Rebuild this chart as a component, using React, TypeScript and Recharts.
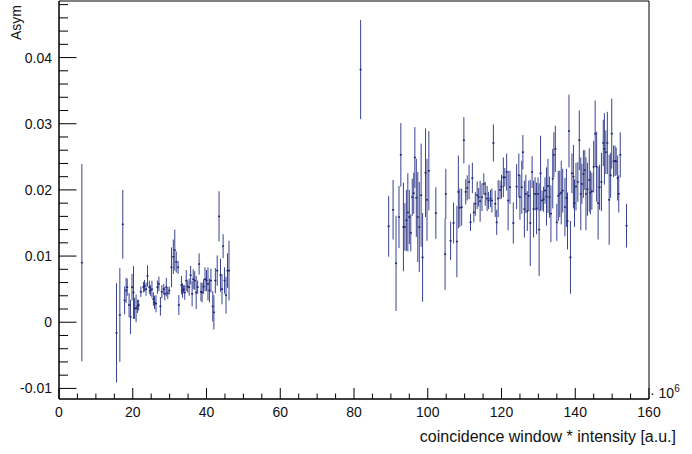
import { ScatterChart, Scatter, XAxis, YAxis, ErrorBar, ReferenceArea } from 'recharts'

// low-intensity region (incl. the lone points at ~6 and ~82)
const lowX = [
    6.2, 15.6, 16.5, 17.3, 17.8, 18.2, 18.5, 19.0, 19.4, 19.8, 20.2, 20.5, 20.9, 21.3, 21.6,
    22.2, 22.9, 23.2, 23.6, 24.0, 24.5, 24.8, 25.2, 25.6, 25.9, 26.3, 26.7, 27.1, 27.5, 27.9,
    28.4, 28.7, 29.1, 29.5, 29.9, 30.5, 31.0, 31.4, 31.8, 32.3, 32.5, 33.2, 33.5, 33.8, 34.1,
    34.5, 34.9, 35.3, 35.7, 36.1, 36.4, 36.8, 37.2, 37.6, 38.0, 38.5, 38.8, 39.2, 39.6, 40.0,
    40.4, 40.8, 41.2, 41.7, 42.0, 42.4, 42.9, 43.4, 43.8, 44.2, 44.5, 44.9, 45.3, 45.7, 46.1,
    81.8,
]
const lowAsym = [
    0.0090, -0.0016, 0.0011, 0.0148, 0.0033, 0.0048, 0.0053, 0.0026, 0.0008, 0.0053, 0.0045, 0.0021, 0.0021, 0.0024, 0.0026,
    0.0046, 0.0053, 0.0055, 0.0050, 0.0070, 0.0053, 0.0048, 0.0050, 0.0035, 0.0030, 0.0028, 0.0053, 0.0058, 0.0024, 0.0046,
    0.0050, 0.0043, 0.0053, 0.0044, 0.0048, 0.0083, 0.0099, 0.0109, 0.0091, 0.0083, 0.0026, 0.0056, 0.0048, 0.0050, 0.0045,
    0.0063, 0.0054, 0.0053, 0.0071, 0.0043, 0.0065, 0.0063, 0.0045, 0.0053, 0.0088, 0.0046, 0.0045, 0.0054, 0.0065, 0.0063,
    0.0058, 0.0048, 0.0063, 0.0024, 0.0015, 0.0063, 0.0078, 0.0160, 0.0071, 0.0050, 0.0115, 0.0063, 0.0041, 0.0078, 0.0078,
    0.0382,
]
const lowErr = [
    0.0149, 0.0075, 0.0071, 0.0052, 0.0021, 0.0019, 0.0013, 0.0018, 0.0026, 0.0020, 0.0040, 0.0016, 0.0021, 0.0010, 0.0008,
    0.0008, 0.0008, 0.0009, 0.0010, 0.0016, 0.0010, 0.0008, 0.0013, 0.0010, 0.0010, 0.0013, 0.0010, 0.0011, 0.0014, 0.0010,
    0.0008, 0.0010, 0.0014, 0.0009, 0.0006, 0.0030, 0.0026, 0.0031, 0.0016, 0.0010, 0.0015, 0.0014, 0.0011, 0.0006, 0.0011,
    0.0016, 0.0009, 0.0013, 0.0014, 0.0019, 0.0015, 0.0014, 0.0025, 0.0010, 0.0016, 0.0014, 0.0015, 0.0011, 0.0018, 0.0016,
    0.0025, 0.0018, 0.0018, 0.0023, 0.0026, 0.0019, 0.0023, 0.0038, 0.0025, 0.0023, 0.0018, 0.0020, 0.0028, 0.0026, 0.0045,
    0.0075,
]

// high-intensity region
const highX = [
    89.4, 90.6, 91.4, 92.2, 92.7, 93.4, 93.8, 94.2, 94.6, 95.0, 95.4, 95.8, 96.2, 96.5, 96.9,
    97.3, 97.7, 98.2, 98.6, 99.4, 99.8, 100.3, 102.2, 104.7, 104.9, 106.2, 107.0, 107.9, 108.3, 108.7,
    109.2, 109.8, 110.3, 110.7, 111.2, 111.6, 112.1, 112.5, 112.9, 113.4, 113.8, 114.2, 114.7, 115.2, 115.6,
    116.1, 116.5, 117.0, 117.4, 117.8, 118.3, 118.7, 119.1, 119.6, 120.0, 120.5, 120.9, 121.4, 121.8, 122.3,
    123.2, 124.1, 124.7, 125.0, 125.5, 125.8, 126.2, 126.6, 127.0, 127.4, 127.8, 128.3, 128.7, 129.1, 129.5,
    129.9, 130.2, 130.6, 131.0, 131.4, 131.8, 132.2, 132.6, 133.0, 133.4, 133.9, 134.2, 134.6, 135.0, 135.4,
    135.8, 136.2, 136.6, 137.2, 137.6, 137.9, 138.3, 138.7, 139.1, 139.5, 139.8, 140.2, 140.7, 141.1, 141.5,
    141.8, 142.2, 142.6, 142.9, 143.3, 143.8, 144.1, 144.5, 145.0, 145.4, 145.8, 146.2, 146.6, 147.1, 147.6,
    147.9, 148.3, 148.7, 149.2, 149.6, 149.9, 150.4, 150.8, 151.1, 151.5, 151.8, 152.2, 153.9,
]
const highAsym = [
    0.0145, 0.0170, 0.0089, 0.0159, 0.0253, 0.0144, 0.0144, 0.0154, 0.0166, 0.0159, 0.0135, 0.0189, 0.0195, 0.0249, 0.0188,
    0.0159, 0.0144, 0.0192, 0.0098, 0.0226, 0.0185, 0.0229, 0.0165, 0.0103, 0.0194, 0.0123, 0.0150, 0.0122, 0.0197, 0.0173,
    0.0174, 0.0275, 0.0197, 0.0203, 0.0212, 0.0151, 0.0218, 0.0166, 0.0179, 0.0192, 0.0189, 0.0183, 0.0189, 0.0209, 0.0194,
    0.0187, 0.0184, 0.0187, 0.0184, 0.0271, 0.0179, 0.0151, 0.0187, 0.0200, 0.0205, 0.0219, 0.0219, 0.0227, 0.0184, 0.0204,
    0.0150, 0.0205, 0.0222, 0.0189, 0.0204, 0.0257, 0.0171, 0.0194, 0.0168, 0.0191, 0.0150, 0.0227, 0.0171, 0.0194, 0.0172,
    0.0194, 0.0140, 0.0225, 0.0184, 0.0186, 0.0199, 0.0190, 0.0206, 0.0189, 0.0164, 0.0217, 0.0253, 0.0262, 0.0151, 0.0191,
    0.0194, 0.0196, 0.0199, 0.0174, 0.0188, 0.0153, 0.0289, 0.0098, 0.0225, 0.0220, 0.0180, 0.0205, 0.0212, 0.0275, 0.0194,
    0.0209, 0.0224, 0.0230, 0.0194, 0.0201, 0.0215, 0.0196, 0.0198, 0.0235, 0.0285, 0.0235, 0.0180, 0.0204, 0.0212, 0.0271,
    0.0262, 0.0257, 0.0271, 0.0185, 0.0222, 0.0285, 0.0243, 0.0244, 0.0243, 0.0218, 0.0194, 0.0253, 0.0146,
]
const highErr = [
    0.0046, 0.0045, 0.0072, 0.0047, 0.0048, 0.0067, 0.0036, 0.0046, 0.0059, 0.0041, 0.0028, 0.0028, 0.0031, 0.0046, 0.0059,
    0.0068, 0.0068, 0.0078, 0.0067, 0.0067, 0.0062, 0.0060, 0.0039, 0.0054, 0.0038, 0.0029, 0.0031, 0.0054, 0.0055, 0.0029,
    0.0028, 0.0035, 0.0019, 0.0019, 0.0026, 0.0013, 0.0023, 0.0015, 0.0018, 0.0021, 0.0014, 0.0031, 0.0021, 0.0016, 0.0018,
    0.0019, 0.0013, 0.0013, 0.0018, 0.0028, 0.0020, 0.0019, 0.0028, 0.0014, 0.0018, 0.0030, 0.0014, 0.0028, 0.0045, 0.0025,
    0.0031, 0.0034, 0.0033, 0.0034, 0.0040, 0.0026, 0.0043, 0.0029, 0.0030, 0.0023, 0.0065, 0.0024, 0.0043, 0.0025, 0.0039,
    0.0025, 0.0070, 0.0057, 0.0015, 0.0019, 0.0020, 0.0044, 0.0041, 0.0031, 0.0043, 0.0045, 0.0034, 0.0035, 0.0028, 0.0038,
    0.0035, 0.0048, 0.0033, 0.0044, 0.0044, 0.0043, 0.0055, 0.0055, 0.0030, 0.0048, 0.0036, 0.0036, 0.0030, 0.0045, 0.0055,
    0.0030, 0.0036, 0.0030, 0.0055, 0.0040, 0.0048, 0.0033, 0.0028, 0.0039, 0.0050, 0.0053, 0.0055, 0.0034, 0.0044, 0.0035,
    0.0054, 0.0033, 0.0047, 0.0068, 0.0034, 0.0053, 0.0024, 0.0023, 0.0021, 0.0034, 0.0028, 0.0034, 0.0033,
]

const xTicks = [0, 5, 10, 15, 20, 25, 30, 35, 40, 45, 50, 55, 60, 65, 70, 75, 80, 85, 90, 95, 100, 105, 110, 115, 120, 125, 130, 135, 140, 145, 150, 155, 160]
const xMajor = [0, 20, 40, 60, 80, 100, 120, 140, 160]
const yTicks = [
    -0.01, -0.008, -0.006, -0.004, -0.002, 0, 0.002, 0.004, 0.006, 0.008, 0.01, 0.012, 0.014, 0.016, 0.018,
    0.02, 0.022, 0.024, 0.026, 0.028, 0.03, 0.032, 0.034, 0.036, 0.038, 0.04, 0.042, 0.044, 0.046, 0.048,
]
const yMajor = [-0.01, 0, 0.01, 0.02, 0.03, 0.04]
const yMin = -0.0116
const yMax = 0.04855

const points = [
    ...lowX.map((x, i) => ({ x, y: lowAsym[i], err: lowErr[i] })),
    ...highX.map((x, i) => ({ x, y: highAsym[i], err: highErr[i] })),
]

const font = '"Liberation Sans", Arial, sans-serif'
const barColor = '#39438f'

function XTick({ x, y, payload }: any) {
    const major = xMajor.includes(payload.value)
    return (
        <g>
            <line x1={x} x2={x} y1={y} y2={y - (major ? 11 : 5.5)} stroke="#000" />
            {major && (
                <text x={x} y={y + 18} textAnchor="middle" fontSize={14} fontFamily={font} fill="#111">
                    {payload.value}
                </text>
            )}
        </g>
    )
}

function YTick({ x, y, payload }: any) {
    const v = payload.value
    const major = yMajor.some((m) => Math.abs(m - v) < 1e-9)
    return (
        <g>
            <line x1={x} x2={x + (major ? 17.5 : 9)} y1={y} y2={y} stroke="#000" />
            {major && (
                <text x={x - 7} y={y + 5} textAnchor="end" fontSize={14} fontFamily={font} fill="#111">
                    {String(Math.round(v * 100) / 100)}
                </text>
            )}
        </g>
    )
}

function Dot({ cx, cy }: any) {
    return <rect x={cx - 1} y={cy - 0.75} width={2} height={1.5} fill="#1c2670" />
}

export default function App() {
    return (
        <div style={{ position: 'absolute', left: 0, top: 0, width: 692, height: 454, background: '#fff' }}>
            <ScatterChart width={692} height={454} margin={{ top: 1, right: 43, bottom: 0, left: 0 }}>
                <XAxis
                    type="number"
                    dataKey="x"
                    domain={[0, 160]}
                    ticks={xTicks}
                    interval={0}
                    tickSize={0}
                    tickMargin={0}
                    tickLine={false}
                    tick={<XTick />}
                    height={55}
                    axisLine={{ stroke: '#000' }}
                    allowDataOverflow
                />
                <YAxis
                    type="number"
                    dataKey="y"
                    domain={[yMin, yMax]}
                    ticks={yTicks}
                    interval={0}
                    tickSize={0}
                    tickMargin={0}
                    tickLine={false}
                    tick={<YTick />}
                    width={59}
                    axisLine={{ stroke: '#000' }}
                    allowDataOverflow
                />
                <ReferenceArea x1={0} x2={160} y1={yMin} y2={yMax} fill="none" stroke="#000" strokeWidth={1} />
                <Scatter data={points} shape={<Dot />} isAnimationActive={false}>
                    <ErrorBar dataKey="err" direction="y" width={0} stroke={barColor} strokeWidth={1} isAnimationActive={false} />
                </Scatter>
            </ScatterChart>
            <svg width={692} height={454} style={{ position: 'absolute', left: 0, top: 0, pointerEvents: 'none' }}>
                <text x={21} y={5} transform="rotate(-90 21 5)" textAnchor="end" fontSize={14} fontFamily={font} fill="#111">
                    Asym
                </text>
                <text x={676} y={442} textAnchor="end" fontSize={16} fontFamily={font} fill="#111">
                    coincidence window * intensity [a.u.]
                </text>
                <text x={650} y={398} fontSize={14} fontFamily={font} fill="#111">
                    · 10<tspan dy={-6} fontSize={10}>6</tspan>
                </text>
            </svg>
        </div>
    )
}
